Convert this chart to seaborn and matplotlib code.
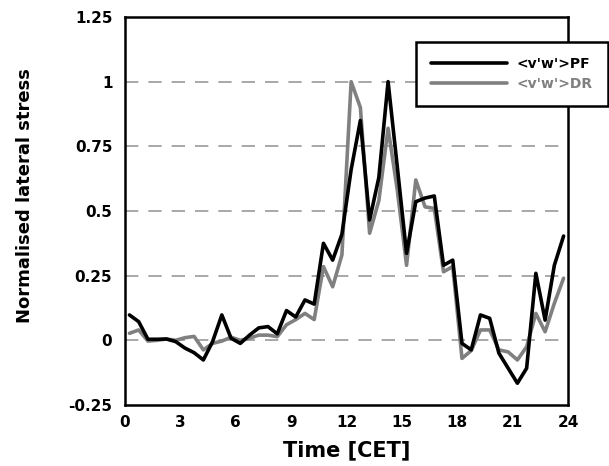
import matplotlib
matplotlib.use("Agg")
import matplotlib.pyplot as plt
import seaborn as sns
import pandas as pd
import numpy as np

# ---- data ----
time_h = [0.25, 0.75, 1.25, 1.75, 2.25, 2.75, 3.25, 3.75, 4.25, 4.75, 5.25, 5.75,
          6.25, 6.75, 7.25, 7.75, 8.25, 8.75, 9.25, 9.75, 10.25, 10.75, 11.25, 11.75,
          12.25, 12.75, 13.25, 13.75, 14.25, 14.75, 15.25, 15.75, 16.25, 16.75, 17.25, 17.75,
          18.25, 18.75, 19.25, 19.75, 20.25, 20.75, 21.25, 21.75, 22.25, 22.75, 23.25, 23.75]

pf = [0.098, 0.072, 0.004, 0.004, 0.005, -0.005, -0.03, -0.048, -0.076, -0.005, 0.098, 0.008,
      -0.012, 0.02, 0.048, 0.053, 0.025, 0.115, 0.09, 0.156, 0.14, 0.375, 0.31, 0.41,
      0.66, 0.85, 0.465, 0.63, 1.0, 0.67, 0.336, 0.536, 0.55, 0.558, 0.29, 0.31,
      -0.012, -0.037, 0.098, 0.085, -0.05, -0.108, -0.166, -0.108, 0.259, 0.078, 0.29, 0.403]

dr = [0.027, 0.04, -0.003, 0.0, 0.005, 0.0, 0.01, 0.015, -0.037, -0.012, -0.003, 0.012,
      0.0, 0.008, 0.02, 0.02, 0.014, 0.06, 0.08, 0.104, 0.08, 0.285, 0.207, 0.33,
      1.0, 0.9, 0.414, 0.54, 0.82, 0.58, 0.29, 0.62, 0.516, 0.51, 0.265, 0.285,
      -0.07, -0.04, 0.04, 0.04, -0.037, -0.045, -0.076, -0.025, 0.104, 0.033, 0.143, 0.24]

series_names = ["<v'w'>PF", "<v'w'>DR"]
series_colors = ["#000000", "#808080"]

x_ticks = [0, 3, 6, 9, 12, 15, 18, 21, 24]
y_ticks = [-0.25, 0, 0.25, 0.5, 0.75, 1, 1.25]
y_tick_labels = ["-0.25", "0", "0.25", "0.5", "0.75", "1", "1.25"]
grid_levels = [0, 0.25, 0.5, 0.75, 1]

x_label = "Time [CET]"
y_label = "Normalised lateral stress"

# ---- style ----
sns.set_style("white")
plt.rcParams["font.family"] = ["DejaVu Sans"]
plt.rcParams["font.weight"] = "bold"
plt.rcParams["text.color"] = "black"
plt.rcParams["axes.labelcolor"] = "black"

df = pd.DataFrame({
    "time": time_h * 2,
    "value": pf + dr,
    "series": [series_names[0]] * len(pf) + [series_names[1]] * len(dr),
})

fig = plt.figure(figsize=(6.09, 4.66), dpi=100)
ax = fig.add_axes([0.205, 0.131, 0.728, 0.8325])

for lvl in grid_levels:
    ax.axhline(lvl, color="#9a9a9a", lw=1.2, dashes=(8, 6), zorder=0)

palette = dict(zip(series_names, series_colors))
# draw DR first so PF sits on top
sns.lineplot(data=df[df["series"] == series_names[1]], x="time", y="value",
             color=palette[series_names[1]], lw=2.6, ax=ax, legend=False,
             label=series_names[1], zorder=2)
sns.lineplot(data=df[df["series"] == series_names[0]], x="time", y="value",
             color=palette[series_names[0]], lw=2.6, ax=ax, legend=False,
             label=series_names[0], zorder=3)

ax.set_xlim(0, 24)
ax.set_ylim(-0.25, 1.25)
ax.set_xticks(x_ticks)
ax.set_xticklabels([str(t) for t in x_ticks])
ax.set_yticks(y_ticks)
ax.set_yticklabels(y_tick_labels)
ax.tick_params(axis="both", direction="in", length=3, width=1, color="black",
               labelsize=11, labelcolor="black")
ax.tick_params(axis="y", pad=9)
ax.tick_params(axis="x", pad=7)
for lab in ax.get_xticklabels() + ax.get_yticklabels():
    lab.set_fontweight("bold")

for sp in ax.spines.values():
    sp.set_color("black")
    sp.set_linewidth(1.8)
    sp.set_visible(True)

ax.set_xlabel(x_label, fontsize=15, fontweight="bold", labelpad=8, color="black")
ax.set_ylabel(y_label, fontsize=13, fontweight="bold", labelpad=14, color="black")
ax.yaxis.set_label_coords(-0.205, 0.54)

handles, labels = ax.get_legend_handles_labels()
order = [labels.index(n) for n in series_names]
leg = ax.legend([handles[i] for i in order], [labels[i] for i in order],
                loc="upper right", bbox_to_anchor=(1.0095, 0.925),
                bbox_transform=fig.transFigure,
                prop={"weight": "bold", "size": 10},
                handlelength=5.5, handletextpad=0.65, borderpad=1.1,
                labelspacing=0.4, fancybox=False, frameon=True,
                framealpha=1, edgecolor="black")
leg.get_frame().set_linewidth(1.8)
for txt, col in zip(leg.get_texts(), series_colors):
    txt.set_color(col)
for ln in leg.get_lines():
    ln.set_linewidth(2.6)

fig.savefig("out.png", dpi=100)
